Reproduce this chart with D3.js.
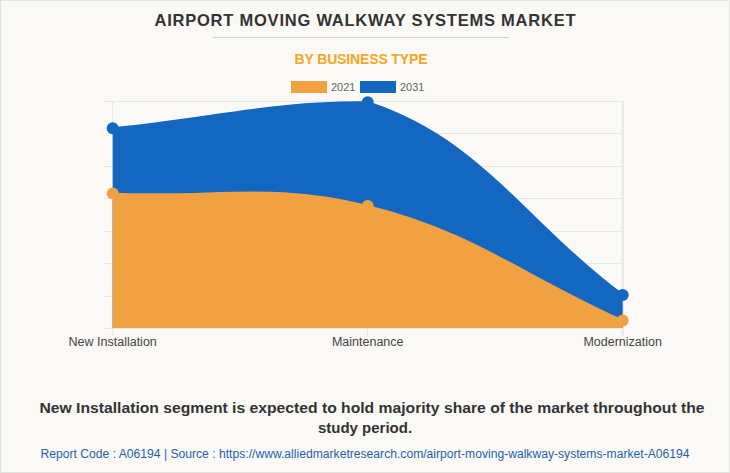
<!DOCTYPE html>
<html><head><meta charset="utf-8">
<script src="https://cdn.jsdelivr.net/npm/d3@7"></script>
<style>html,body{margin:0;padding:0;background:#faf9f5;}svg{display:block;}</style>
</head><body>
<svg id="c" width="730" height="473"></svg>
<script>
const categories = ["New Installation", "Maintenance", "Modernization"];
const values2021 = [4.15, 3.76, 0.23];
const values2031 = [6.16, 6.96, 1.02];
const seriesNames = ["2021", "2031"];
const yTicks = [0, 1, 2, 3, 4, 5, 6, 7];

const W = 730, H = 473;
const svg = d3.select("#c");
const area = {left: 112.7, right: 622.7, top: 101, bottom: 328};
const colors = {"2021": "#f0a142", "2031": "#1467c1"};

svg.append("rect").attr("x", 0.5).attr("y", 0.5).attr("width", W - 1).attr("height", H - 1)
  .attr("fill", "#faf9f5").attr("stroke", "#e2e2e2");

const x = d3.scalePoint().domain(categories).range([area.left, area.right]).padding(0);
const y = d3.scaleLinear().domain([0, 7]).range([area.bottom, area.top]);

// Title
svg.append("text").attr("x", 365).attr("y", 26).attr("text-anchor", "middle")
  .attr("font-family", "Liberation Sans, Arial, sans-serif").attr("font-weight", "bold")
  .attr("font-size", 16.5).attr("fill", "#333").attr("textLength", 421).attr("lengthAdjust", "spacing")
  .text("AIRPORT MOVING WALKWAY SYSTEMS MARKET");
svg.append("line").attr("x1", 213).attr("x2", 509).attr("y1", 37.5).attr("y2", 37.5)
  .attr("stroke", "#cfcfcf").attr("stroke-width", 1);
svg.append("text").attr("x", 361).attr("y", 64).attr("text-anchor", "middle")
  .attr("font-family", "Liberation Sans, Arial, sans-serif").attr("font-weight", "bold")
  .attr("font-size", 14).attr("fill", "#f5a623").attr("textLength", 133).attr("lengthAdjust", "spacing")
  .text("BY BUSINESS TYPE");

// Legend
const legend = svg.append("g");
const legendX = [291, 360];
seriesNames.forEach((s, i) => {
  legend.append("rect").attr("x", legendX[i]).attr("y", 81).attr("width", 36).attr("height", 12)
    .attr("fill", colors[s]);
  legend.append("text").attr("x", legendX[i] + 40).attr("y", 91)
    .attr("font-family", "Liberation Sans, Arial, sans-serif").attr("font-size", 11).attr("fill", "#666")
    .text(s);
});

// Grid
const grid = svg.append("g");
yTicks.forEach(t => {
  grid.append("line").attr("x1", area.left - 8.5).attr("x2", area.right).attr("y1", Math.round(y(t)) + 0.5).attr("y2", Math.round(y(t)) + 0.5)
    .attr("stroke", "#e6e6e6").attr("stroke-width", 1);
});
categories.forEach((c, i) => {
  grid.append("line").attr("x1", x(c)).attr("x2", x(c)).attr("y1", area.top).attr("y2", area.bottom + 8)
    .attr("stroke", "#e6e6e6").attr("stroke-width", i === categories.length - 1 ? 2 : 1);
});

// Chart.js style spline (tension 0.4, capped)
function splinePath(vals) {
  const pts = vals.map((v, i) => ({x: x(categories[i]), y: y(v)}));
  const t = 0.4;
  const cps = pts.map((p, i) => {
    const prev = pts[i - 1] || p, next = pts[i + 1] || p;
    const d01 = Math.hypot(p.x - prev.x, p.y - prev.y);
    const d12 = Math.hypot(next.x - p.x, next.y - p.y);
    let s01 = d01 / (d01 + d12), s12 = d12 / (d01 + d12);
    if (isNaN(s01)) s01 = 0; if (isNaN(s12)) s12 = 0;
    const fa = t * s01, fb = t * s12;
    const cap = q => ({x: Math.max(area.left, Math.min(area.right, q.x)), y: Math.max(area.top, Math.min(area.bottom, q.y))});
    return {
      c1: cap({x: p.x - fa * (next.x - prev.x), y: p.y - fa * (next.y - prev.y)}),
      c2: cap({x: p.x + fb * (next.x - prev.x), y: p.y + fb * (next.y - prev.y)})
    };
  });
  const path = d3.path();
  path.moveTo(pts[0].x, pts[0].y);
  for (let i = 1; i < pts.length; i++) {
    path.bezierCurveTo(cps[i - 1].c2.x, cps[i - 1].c2.y, cps[i].c1.x, cps[i].c1.y, pts[i].x, pts[i].y);
  }
  return {line: path.toString(), pts};
}

function drawSeries(name, vals) {
  const {line, pts} = splinePath(vals);
  const areaPath = line + `L${pts[pts.length - 1].x},${y(0)}L${pts[0].x},${y(0)}Z`;
  const g = svg.append("g");
  g.append("path").attr("d", areaPath).attr("fill", colors[name]);
  g.append("path").attr("d", line).attr("fill", "none").attr("stroke", colors[name]).attr("stroke-width", 2);
  g.selectAll("circle").data(pts).join("circle")
    .attr("cx", d => d.x).attr("cy", d => d.y).attr("r", 6).attr("fill", colors[name]);
}
drawSeries("2031", values2031);
drawSeries("2021", values2021);

// X axis labels
categories.forEach(c => {
  svg.append("text").attr("x", x(c)).attr("y", 346).attr("text-anchor", "middle")
    .attr("font-family", "Liberation Sans, Arial, sans-serif").attr("font-size", 12.5).attr("fill", "#444")
    .text(c);
});

// Bottom text
const note = svg.append("text").attr("text-anchor", "middle")
  .attr("font-family", "Liberation Sans, Arial, sans-serif").attr("font-weight", "bold")
  .attr("font-size", 15).attr("fill", "#333");
note.append("tspan").attr("x", 372).attr("y", 413).attr("textLength", 665).attr("lengthAdjust", "spacingAndGlyphs")
  .text("New Installation segment is expected to hold majority share of the market throughout the");
note.append("tspan").attr("x", 365).attr("y", 433).text("study period.");

svg.append("text").attr("x", 365).attr("y", 458).attr("text-anchor", "middle")
  .attr("font-family", "Liberation Sans, Arial, sans-serif").attr("font-size", 12).attr("fill", "#1f5fb0")
  .attr("textLength", 649).attr("lengthAdjust", "spacingAndGlyphs")
  .text("Report Code : A06194  |  Source : https://www.alliedmarketresearch.com/airport-moving-walkway-systems-market-A06194");
</script>
</body></html>
